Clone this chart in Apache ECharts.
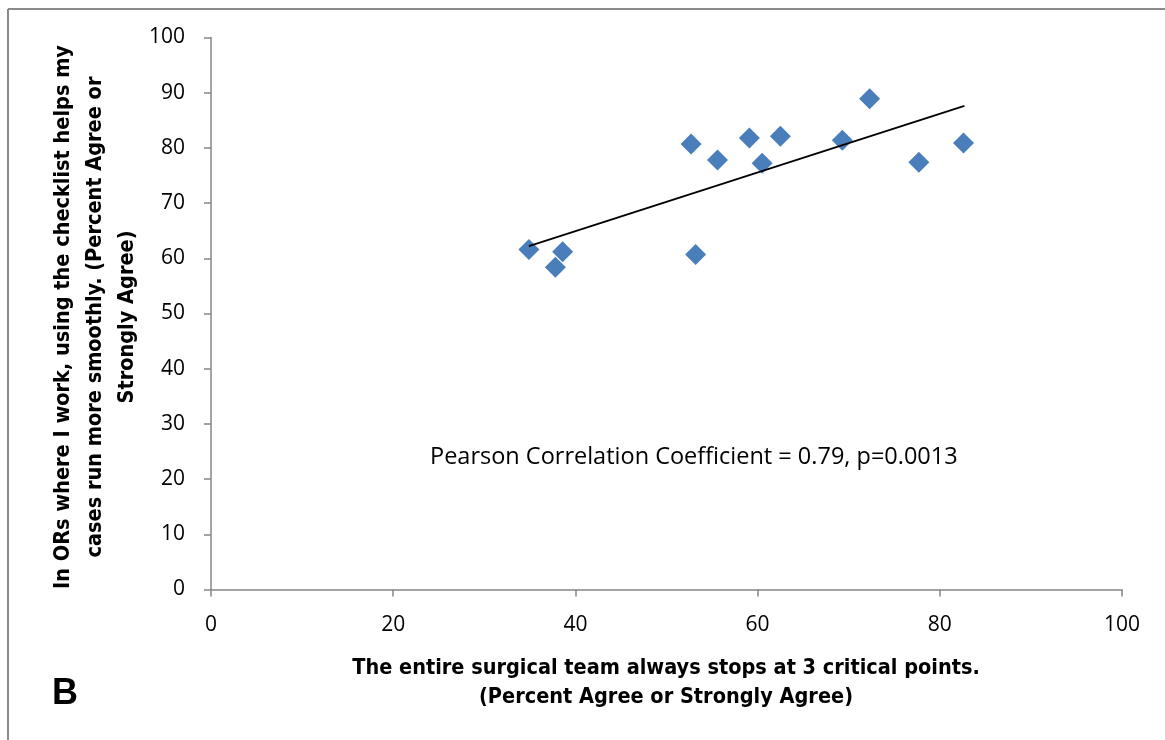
<!DOCTYPE html>
<html>
<head>
<meta charset="utf-8">
<script src="https://cdn.jsdelivr.net/npm/echarts@6/dist/echarts.min.js"></script>
<style>
html,body{margin:0;padding:0;background:#fff;}
#chart{width:1165px;height:740px;}
</style>
</head>
<body>
<div id="chart"></div>
<script>
// Data
const xValues = [34.9, 37.8, 38.6, 52.7, 53.2, 55.6, 59.1, 60.5, 62.5, 69.3, 72.3, 77.7, 82.6];
const yValues = [61.6, 58.4, 61.2, 80.7, 60.7, 77.8, 81.8, 77.2, 82.1, 81.4, 88.9, 77.4, 80.9];
const trendX = [34.9, 82.7];
const trendY = [62.2, 87.6];
const xTicks = [0, 20, 40, 60, 80, 100];
const yTicks = [0, 10, 20, 30, 40, 50, 60, 70, 80, 90, 100];
const xTitle = 'The entire surgical team always stops at 3 critical points.\n(Percent Agree or Strongly Agree)';
const yTitle = 'In ORs where I work, using the checklist helps my\ncases run more smoothly. (Percent Agree or\nStrongly Agree)';
const note = 'Pearson Correlation Coefficient = 0.79, p=0.0013';
const panel = 'B';

const points = xValues.map((x, i) => [x, yValues[i]]);
const trend = trendX.map((x, i) => [x, trendY[i]]);

const chart = echarts.init(document.getElementById('chart'));
const axisColor = '#868686';
const font = "'Liberation Sans Narrow', 'DejaVu Sans Condensed', sans-serif";
chart.setOption({
  animation: false,
  backgroundColor: '#fff',
  grid: {left: 211, right: 43, top: 37.5, bottom: 150.5},
  xAxis: {
    type: 'value', min: xTicks[0], max: xTicks[xTicks.length - 1], interval: xTicks[1] - xTicks[0],
    axisLine: {show: true, lineStyle: {color: axisColor, width: 1.5}},
    axisTick: {show: true, length: 7, lineStyle: {color: axisColor, width: 1.5}},
    splitLine: {show: false},
    axisLabel: {color: '#000', fontSize: 21, fontFamily: "'Open Sans', sans-serif", margin: 25}
  },
  yAxis: {
    type: 'value', min: yTicks[0], max: yTicks[yTicks.length - 1], interval: yTicks[1] - yTicks[0],
    axisLine: {show: true, lineStyle: {color: axisColor, width: 1.5}},
    axisTick: {show: true, length: 7, lineStyle: {color: axisColor, width: 1.5}},
    splitLine: {show: false},
    axisLabel: {color: '#000', fontSize: 21, fontFamily: "'Open Sans', sans-serif", margin: 26}
  },
  graphic: [
    {type: 'line', shape: {x1: 8, y1: 9, x2: 1165, y2: 9}, style: {stroke: '#8a8a8a', lineWidth: 2}},
    {type: 'line', shape: {x1: 8, y1: 9, x2: 8, y2: 740}, style: {stroke: '#8a8a8a', lineWidth: 2}},
    {type: 'text', left: 52, top: 676, style: {text: panel, font: "bold 36px 'Liberation Sans', Arial, sans-serif", fill: '#000'}},
    {type: 'text', x: 666, y: 683, style: {text: xTitle, font: 'bold 21.5px ' + font, fill: '#000', textAlign: 'center', textVerticalAlign: 'middle', lineHeight: 29}},
    {type: 'text', x: 95, y: 317, rotation: Math.PI / 2, style: {text: yTitle, font: 'bold 21.5px ' + font, fill: '#000', textAlign: 'center', textVerticalAlign: 'middle', lineHeight: 32}},
    {type: 'text', x: 430, y: 457, style: {text: note, font: "23.5px 'Open Sans', sans-serif", fill: '#000', textAlign: 'left', textVerticalAlign: 'middle'}}
  ],
  series: [
    {
      type: 'scatter', data: points, symbol: 'diamond', symbolSize: 21,
      itemStyle: {color: '#4a7ebb', opacity: 1}
    },
    {
      type: 'line', data: trend, symbol: 'none',
      lineStyle: {color: '#000', width: 1.8}
    }
  ]
});
</script>
</body>
</html>
